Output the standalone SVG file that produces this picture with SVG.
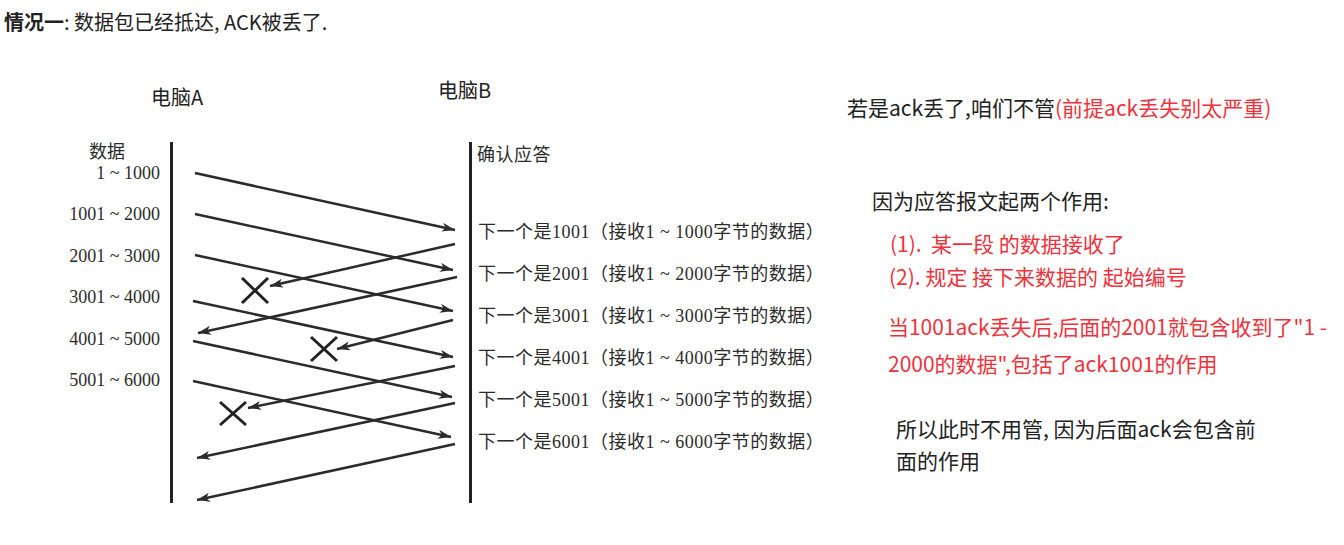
<svg xmlns="http://www.w3.org/2000/svg" width="1344" height="545" viewBox="0 0 1344 545">
<defs>
<style>
.sr{font-family:"Liberation Serif","Noto Sans CJK SC",serif;font-size:18px;fill:#2b2b2b}
.rl{letter-spacing:0.5px}
.ss{font-family:"Noto Sans CJK SC","Noto Sans",sans-serif;font-size:20px;fill:#222}
.nt{font-size:21px}
.rd{fill:#f0323c}
.ln{stroke:#2b2b2b;stroke-width:2.5;fill:none;marker-end:url(#ah)}
.tl{stroke:#222;stroke-width:3;fill:none}
.x{stroke:#222;stroke-width:3;fill:none}
</style>
<marker id="ah" markerWidth="14" markerHeight="10" refX="13" refY="4.5" orient="auto" markerUnits="userSpaceOnUse">
<path d="M0,0 L13,4.5 L0,9 L3.5,4.5 z" fill="#2b2b2b"/>
</marker>
</defs>
<rect width="1344" height="545" fill="#fff"/>

<g id="title"><text class="ss" x="4" y="30"><tspan font-weight="700">情况一</tspan>: 数据包已经抵达, ACK被丢了.</text></g>

<g id="hostA">
<text class="ss" x="151" y="105">电脑A</text>
<line class="tl" x1="171.5" y1="142" x2="171.5" y2="503"/>
<text class="sr" x="89" y="158">数据</text>
<g text-anchor="end">
<text class="sr" x="160" y="179">1 ~ 1000</text>
<text class="sr" x="160" y="220">1001 ~ 2000</text>
<text class="sr" x="160" y="261.5">2001 ~ 3000</text>
<text class="sr" x="160" y="303">3001 ~ 4000</text>
<text class="sr" x="160" y="345">4001 ~ 5000</text>
<text class="sr" x="160" y="386">5001 ~ 6000</text>
</g>
</g>

<g id="hostB">
<text class="ss" x="438" y="98">电脑B</text>
<line class="tl" x1="470.5" y1="142" x2="470.5" y2="503"/>
<text class="sr rl" x="477" y="161">确认应答</text>
<text class="sr rl" x="478" y="238">下一个是1001（接收1 ~ 1000字节的数据）</text>
<text class="sr rl" x="478" y="280">下一个是2001（接收1 ~ 2000字节的数据）</text>
<text class="sr rl" x="478" y="322">下一个是3001（接收1 ~ 3000字节的数据）</text>
<text class="sr rl" x="478" y="364">下一个是4001（接收1 ~ 4000字节的数据）</text>
<text class="sr rl" x="478" y="406">下一个是5001（接收1 ~ 5000字节的数据）</text>
<text class="sr rl" x="478" y="448">下一个是6001（接收1 ~ 6000字节的数据）</text>
</g>

<g id="connectors">
<line class="ln" x1="195" y1="173" x2="455" y2="230"/>
<line class="ln" x1="195" y1="214" x2="453" y2="270"/>
<line class="ln" x1="195" y1="255" x2="453" y2="311"/>
<line class="ln" x1="193" y1="301" x2="453" y2="357"/>
<line class="ln" x1="193" y1="341" x2="452" y2="397"/>
<line class="ln" x1="193" y1="381" x2="451" y2="437"/>
<line class="ln" x1="455" y1="244" x2="270" y2="286"/>
<line class="ln" x1="457" y1="277" x2="198" y2="333"/>
<line class="ln" x1="453" y1="320" x2="337" y2="349"/>
<line class="ln" x1="455" y1="366" x2="248" y2="408"/>
<line class="ln" x1="455" y1="403" x2="197" y2="458"/>
<line class="ln" x1="455" y1="444" x2="197" y2="500"/>
</g>

<g id="losses">
<path class="x" d="M242,278 L268,303 M268,278 L242,303"/>
<path class="x" d="M311,337 L337,361 M337,337 L311,361"/>
<path class="x" d="M220,402 L246,425 M246,402 L220,425"/>
</g>

<g id="notes">
<text class="ss nt" x="847" y="116">若是ack丢了,咱们不管<tspan class="rd">(前提ack丢失别太严重)</tspan></text>
<text class="ss nt" x="872" y="209">因为应答报文起两个作用:</text>
<text class="ss nt rd" x="890" y="251.5" xml:space="preserve">(1).  某一段 的数据接收了</text>
<text class="ss nt rd" x="889" y="285" xml:space="preserve">(2). 规定 接下来数据的 起始编号</text>
<text class="ss nt rd" x="888" y="335" textLength="439">当1001ack丢失后,后面的2001就包含收到了"1 -</text>
<text class="ss nt rd" x="888" y="372">2000的数据",包括了ack1001的作用</text>
<text class="ss nt" x="896" y="437">所以此时不用管, 因为后面ack会包含前</text>
<text class="ss nt" x="896" y="469">面的作用</text>
</g>
</svg>
